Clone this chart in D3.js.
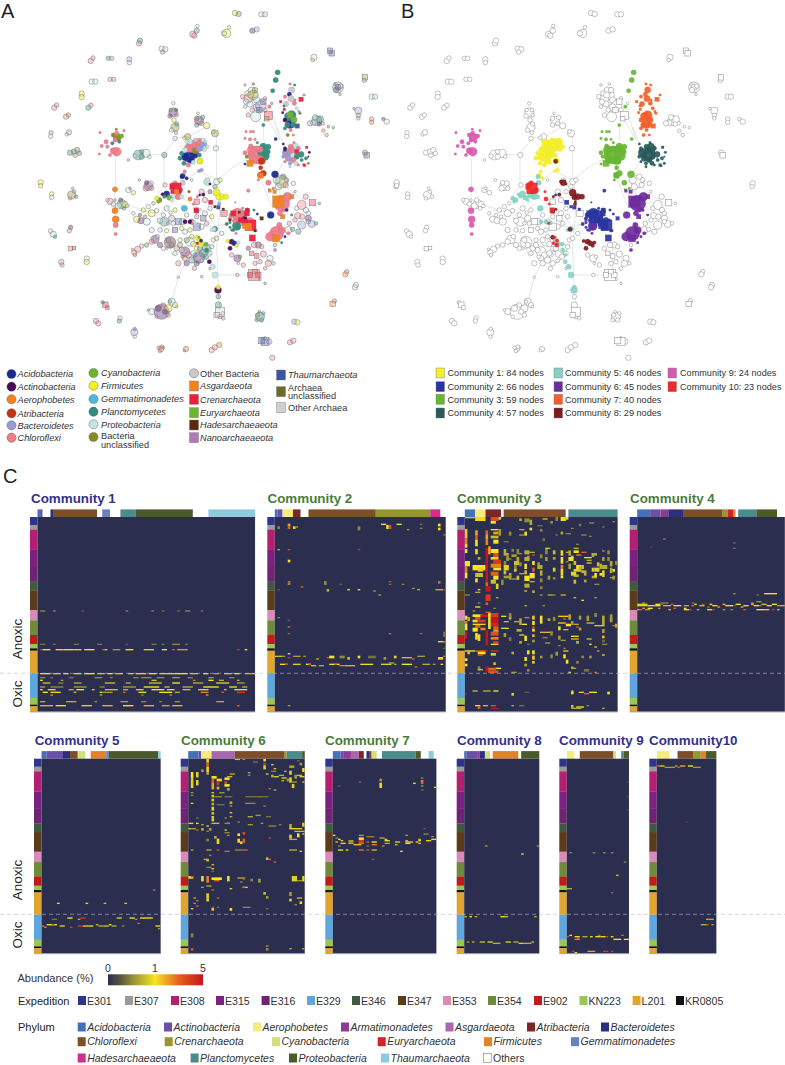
<!DOCTYPE html>
<html><head><meta charset="utf-8">
<script src="https://cdn.jsdelivr.net/npm/d3@7/dist/d3.min.js"></script>
<style>html,body{margin:0;background:#fff}svg{display:block;font-family:"Liberation Sans",Arial,sans-serif}</style>
</head><body><svg id="c" width="785" height="1065"></svg>
<script>
// ---------- phylum keys ----------
const networkPhyla = [
 ["A","Acidobacteria","#1c2a90"],["T","Actinobacteria","#480a5a"],["O","Aerophobetes","#f5821f"],["R","Atribacteria","#c9300f"],
 ["B","Bacteroidetes","#9a9ad8"],["C","Chloroflexi","#f47a8a"],["Y","Cyanobacteria","#6cb52e"],["F","Firmicutes","#eef21f"],
 ["G","Gemmatimonadetes","#4cb8d8"],["P","Planctomycetes","#2f8d7c"],["E","Proteobacteria","#bfe6e4"],["U","Bacteria\nunclassified","#8a8a20"],
 ["X","Other Bacteria","#c8c8c8"],["s","Asgardaeota","#f5821f"],["c","Crenarchaeota","#f01c3c"],["e","Euryarchaeota","#6cb52e"],
 ["h","Hadesarchaeaeota","#5a2a10"],["n","Nanoarchaeaeota","#b07ab8"],["t","Thaumarchaeota","#3b53a8"],["u","Archaea\nunclassified","#6a6a2c"],["x","Other Archaea","#cfcfcf"]];
const communityColors = ["#f3ee2e","#2a35a0","#69b534","#2a5a5c","#86d1c6","#6f2ca0","#f25f28","#7e1a1e","#d85ab0","#ee2a2e"];
const communityNodeCounts = [84,66,59,57,46,45,40,29,24,23];

// ---------- network nodes: [x, y, r, phylum] ----------
const background = [
[705,39,6,"F"],[716,42,6,"U"],[784,43,6,"E"],[795,43,6,"X"],[578,103,7,"C"],[590,92,6,"P"],[583,107,6,"C"],[592,78,4,"E"],[680,100,9,"F"],[687,82,4,"F"],[672,100,6,"X"],[757,92,6,"T"],[770,88,6,"B"],
[417,130,6,"C"],[420,122,6,"P"],[485,146,6,"E"],[496,148,6,"E"],[488,156,5,"C"],[272,183,6,"C"],[279,174,5,"C"],[325,175,5,"P"],[335,175,5,"B"],[388,178,6,"B"],[388,188,5,"E"],[275,245,6,"E"],[286,245,6,"E"],[330,238,5,"C"],[341,238,5,"C"],
[245,281,6,"F"],[245,291,6,"F"],[163,323,6,"C"],[170,315,5,"C"],[198,350,6,"C"],[205,345,5,"O"],[265,323,6,"P"],[273,316,5,"C"],[153,398,5,"B"],[152,409,5,"E"],[200,403,4,"F"],[207,397,6,"B"],
[210,458,6,"P"],[222,455,6,"P"],[232,450,6,"U"],[238,460,5,"P"],[225,466,5,"C"],[122,547,6,"F"],[122,557,5,"F"],[155,582,5,"F"],[155,592,5,"E"],[215,585,9,"U"],[222,575,4,"C"],[228,590,4,"P"],[210,595,4,"C"],[218,565,3,"C"],
[152,693,5,"E"],[160,703,7,"E"],[165,710,4,"P"],[212,682,5,"T"],[208,692,5,"C"],[211,746,5,"s"],[222,744,4,"c"],[184,786,6,"B"],[186,795,5,"C"],[260,776,6,"E"],[260,786,6,"F"],
[308,907,4,"A"],[316,914,6,"c"],[322,923,4,"c"],[288,963,6,"C"],[295,970,6,"C"],[360,954,5,"E"],[358,963,5,"P"],[403,997,8,"B"],[404,987,4,"P"],[404,1010,4,"E"],
[483,1047,6,"C"],[476,1043,4,"O"],[490,1043,3,"C"],[480,1053,4,"O"],[486,1040,4,"C"],[558,1047,6,"O"],[553,1052,3,"C"],[635,1050,6,"C"],[645,1042,6,"C"],[658,1035,6,"O"],
[795,1025,9,"t"],[785,1022,7,"t"],[808,1025,6,"B"],[795,1015,4,"E"],[870,1027,6,"C"],[880,1022,6,"C"],[817,1073,6,"C"],[998,912,6,"s"],[1003,903,5,"C"],[1068,855,6,"E"],[1065,862,6,"E"],[1040,815,5,"C"],[1036,823,6,"O"],[883,965,6,"B"],[892,967,6,"F"],
[1190,550,6,"E"],[1188,560,5,"E"],[1095,458,6,"U"],[1100,466,6,"t"],[1115,357,5,"C"],[1115,367,5,"O"],[1150,357,4,"T"],[1160,365,6,"E"],[1075,332,8,"B"],[1062,326,3,"C"],[1075,346,5,"B"],[1075,355,4,"C"],
[1115,290,6,"E"],[1125,290,6,"E"],[1095,232,6,"e"],[1093,241,5,"C"],[1014,262,12,"B"],[1014,262,7,"T"],[1020,283,3,"C"],[942,172,7,"E"],[938,180,4,"F"],[990,152,6,"t"],[995,160,6,"t"],
[950,362,11,"P"],[960,358,8,"P"],[940,368,6,"E"],[930,370,6,"B"],[968,370,4,"C"],[985,380,3,"P"],[1000,383,3,"P"],[970,392,4,"O"],[980,405,4,"O"],[945,352,6,"E"],[958,372,5,"T"],
[760,285,11,"U"],[745,295,10,"C"],[755,272,8,"E"],[770,300,7,"E"],[735,255,3,"C"],[760,252,3,"T"],[782,318,12,"B"],[790,305,6,"t"],[770,322,8,"B"],[767,350,11,"E"],[805,347,9,"c"],[795,330,5,"C"],[800,356,5,"s"],[745,345,5,"C"],[728,290,5,"C"],[735,320,4,"X"],[750,312,7,"E"],[742,280,6,"X"],[738,305,6,"E"],[757,330,5,"C"],[795,295,4,"C"],[815,310,3,"P"],[765,270,6,"U"],[752,285,7,"F"],[778,330,6,"t"],
[520,337,10,"T"],[512,330,4,"U"],[520,310,4,"E"],[530,345,4,"C"],[525,382,9,"U"],[530,372,5,"P"],[515,390,5,"E"],[522,360,5,"F"],[528,398,4,"C"],[525,415,5,"E"],[597,362,10,"T"],[590,355,5,"U"],[605,370,5,"C"],[594,340,3,"E"],
[620,377,7,"F"],[645,400,8,"U"],[640,395,4,"F"],[648,445,6,"E"],[563,410,7,"U"],[553,413,4,"F"],[415,465,11,"P"],[438,460,9,"E"],[405,468,5,"E"],[425,470,6,"P"],[493,465,6,"P"],[385,480,3,"C"],
[445,558,10,"T"],[437,565,6,"C"],[452,550,6,"E"],[495,555,5,"C"],[418,540,3,"C"],[385,570,6,"E"],[400,578,5,"F"],[390,565,3,"C"],[330,604,7,"C"],[322,600,4,"E"],[365,612,10,"P"],[355,618,7,"E"],[375,614,7,"F"],[382,618,4,"E"],[340,612,5,"E"],
[410,658,7,"F"],[423,662,7,"T"],[440,665,8,"E"],[455,640,8,"F"],[470,632,5,"E"],[435,650,4,"U"],[493,665,10,"P"],[480,662,6,"E"],[505,670,4,"C"],[515,655,7,"B"],[535,665,7,"t"],[520,670,5,"E"],[548,665,7,"E"],[590,680,8,"t"],[575,665,6,"T"],[605,680,6,"E"],[455,690,6,"E"],[615,640,6,"E"],[620,670,5,"C"],[635,650,5,"F"],[545,685,5,"F"],[512,638,4,"F"],[490,645,5,"E"],
[650,545,7,"E"],[622,540,5,"E"],[660,540,5,"F"],[590,605,6,"c"],[605,575,6,"C"],[575,540,3,"E"],
[465,718,9,"T"],[455,725,6,"C"],[440,735,5,"P"],[425,738,5,"C"],[413,748,7,"C"],[403,758,6,"C"],[397,748,3,"C"],[405,765,4,"O"],[472,710,5,"E"],[510,727,13,"T"],[505,720,6,"U"],[515,735,6,"U"],[500,745,3,"C"],
[570,725,10,"E"],[560,720,6,"Y"],[580,732,6,"F"],[540,720,5,"E"],[590,745,5,"F"],[555,755,11,"T"],[545,750,6,"E"],[565,765,7,"C"],[555,775,6,"C"],[535,790,6,"C"],[560,790,6,"T"],[548,770,4,"U"],
[597,772,13,"T"],[610,760,9,"P"],[620,745,10,"P"],[585,765,5,"P"],[635,740,5,"E"],[605,782,4,"E"],[630,805,3,"C"],[712,775,8,"T"],[720,770,4,"U"],[715,790,3,"E"],[583,805,5,"C"],[605,830,3,"C"],
[762,825,12,"c"],[750,825,6,"c"],[775,825,6,"c"],[765,815,5,"s"],[712,825,4,"C"],[780,838,3,"C"],[795,850,3,"P"],[775,735,7,"T"],[762,735,6,"C"],[785,740,5,"C"],[790,762,7,"C"],[770,768,5,"c"],[765,790,5,"C"],[810,775,7,"E"],[805,790,7,"C"],[795,805,4,"C"],[825,735,4,"C"],[672,640,7,"c"],
[655,890,5,"P"],[660,935,10,"x"],[655,915,7,"P"],[660,950,5,"C"],[668,940,4,"E"],[485,935,17,"T"],[505,925,8,"F"],[515,905,8,"E"],[525,915,6,"F"],[455,935,7,"E"],[445,930,3,"C"],[505,945,5,"C"],[470,950,4,"C"],[535,832,3,"E"],[530,920,3,"F"],
[780,950,10,"P"],[773,945,5,"U"],[785,960,5,"P"],[778,935,3,"P"],[905,615,10,"C"],[938,608,7,"c"],[917,590,6,"C"],[958,610,3,"P"],[893,647,7,"C"],[907,650,6,"C"],[925,655,7,"T"],[905,675,9,"B"],[935,672,8,"B"],[948,670,4,"P"],[925,665,5,"B"],[865,690,8,"E"],[878,688,5,"P"],[918,630,6,"E"],
[845,545,14,"U"],[830,540,8,"E"],[857,555,6,"C"],[880,550,5,"E"],[885,575,3,"C"],
[480,690,5,"E"],[500,692,5,"F"],[525,690,6,"t"],[555,695,6,"E"],[570,690,5,"F"],[480,735,6,"T"],[490,745,5,"E"],[530,745,6,"C"],[525,760,5,"E"],[580,760,6,"E"],[590,790,6,"T"],[575,780,7,"P"],[618,770,6,"P"],[630,760,5,"E"],[600,745,6,"P"],[575,710,5,"F"],[540,735,6,"U"],[640,720,5,"E"],[650,715,5,"F"],[665,700,5,"E"],[695,765,5,"C"],[730,795,5,"C"],[755,760,5,"c"],[780,785,5,"C"],[745,745,5,"T"],[820,790,4,"C"],[430,630,5,"F"],[445,620,5,"E"],[460,610,4,"C"],[420,645,4,"T"],[400,640,4,"E"],[500,625,6,"E"],[525,630,5,"F"],[560,645,5,"E"],[590,650,5,"B"],[610,655,6,"t"],[630,625,5,"E"],[630,575,5,"T"],[615,600,6,"C"],[645,560,5,"P"],[495,935,6,"T"],[475,925,7,"T"],[490,915,5,"C"],[510,905,4,"P"],[650,945,6,"x"],[670,955,4,"C"],[790,940,4,"P"],[770,960,4,"P"],[925,640,5,"E"],[890,625,5,"E"],[885,660,5,"C"],[895,695,6,"P"],[868,670,5,"C"],[835,560,7,"E"],[850,530,6,"P"],[860,540,5,"C"],[510,348,5,"T"],[528,330,4,"T"],[590,375,5,"P"],[608,352,5,"P"],[425,455,5,"P"],[448,470,4,"E"],[440,548,5,"T"],[455,565,5,"C"],[362,600,5,"T"],[372,625,4,"P"],[345,600,3,"C"],[1008,270,6,"P"],[1022,258,5,"E"],[1005,252,3,"P"]];
const community1Nodes = [[575,455,14,"A"],[565,470,12,"A"],[583,462,10,"A"],[572,478,9,"A"],[556,470,9,"A"],[590,435,14,"C"],[575,440,13,"C"],[600,428,10,"C"],[565,445,9,"C"],[610,435,8,"B"],[586,452,7,"U"],[595,447,6,"C"],[545,460,5,"P"],[540,475,5,"P"],[600,483,7,"F"],[548,528,6,"A"],[560,535,4,"A"],[554,515,4,"C"],[587,420,5,"X"],[570,425,6,"E"],[610,420,5,"E"],[598,465,5,"P"],[612,447,6,"E"],[552,490,5,"P"],[565,495,5,"C"],[580,487,5,"E"],[600,445,7,"B"],[555,450,6,"E"],[597,513,4,"B"],[605,510,4,"B"],[622,440,4,"E"],[560,425,4,"E"],[617,425,3,"E"]];
const community2Nodes = [[720,650,16,"C"],[712,640,12,"C"],[752,676,12,"c"],[735,668,7,"c"],[740,640,6,"c"],[722,660,6,"c"],[700,640,6,"c"],[742,632,5,"c"],[757,714,7,"c"],[632,607,5,"c"],[733,658,7,"T"],[742,630,5,"A"],[710,678,10,"P"],[680,672,4,"P"],[695,690,3,"P"],[690,682,3,"P"],[745,680,8,"s"],[735,678,6,"s"],[785,655,4,"h"],[765,692,3,"h"],[670,628,3,"h"],[645,620,3,"h"],[718,637,3,"h"],[750,660,6,"C"],[695,645,6,"C"],[690,655,4,"C"],[706,607,2,"C"],[745,572,4,"C"],[655,622,4,"t"],[599,585,3,"T"],[772,642,3,"A"],[728,625,3,"C"],[703,662,5,"C"],[690,668,3,"P"],[762,630,3,"P"],[760,660,3,"C"]];
const community3Nodes = [[770,465,20,"C"],[790,455,13,"P"],[795,468,10,"P"],[755,450,10,"C"],[780,480,10,"C"],[760,478,9,"C"],[790,440,8,"P"],[805,440,6,"P"],[752,438,5,"C"],[735,458,5,"C"],[740,470,4,"U"],[750,490,7,"s"],[735,492,3,"A"],[785,483,8,"R"],[782,503,5,"R"],[790,520,7,"R"],[780,525,6,"R"],[805,548,6,"C"],[775,540,3,"C"],[782,527,6,"s"],[825,523,8,"A"],[827,417,4,"A"],[833,217,6,"P"],[827,240,6,"P"],[818,272,5,"P"],[808,320,4,"C"],[790,375,4,"P"],[738,395,3,"C"],[752,395,3,"C"],[760,395,3,"C"],[735,415,3,"C"],[750,418,4,"C"],[765,418,3,"C"],[772,428,3,"P"],[820,565,3,"O"],[808,570,3,"s"],[780,448,7,"C"],[803,455,6,"P"],[772,445,6,"C"]];
const community4Nodes = [[877,465,14,"E"],[860,458,10,"B"],[885,440,8,"E"],[872,440,6,"C"],[855,450,4,"A"],[903,463,7,"P"],[890,470,6,"P"],[875,450,7,"C"],[880,480,6,"C"],[865,475,7,"B"],[895,445,5,"C"],[888,490,5,"E"],[870,490,4,"B"],[918,475,4,"P"],[920,442,3,"c"],[928,457,3,"T"],[855,445,4,"T"],[925,490,3,"Y"],[915,497,3,"C"],[850,432,3,"T"],[882,428,3,"C"],[905,480,4,"P"],[912,495,3,"c"],[860,465,4,"C"],[890,455,5,"c"],[870,500,3,"E"],[895,495,3,"C"],[850,470,4,"B"],[925,470,2,"T"],[855,485,3,"C"]];
const community5Nodes = [[500,582,7,"A"],[478,600,6,"U"],[470,595,5,"F"],[508,593,6,"Y"],[488,583,4,"T"],[493,590,4,"P"],[525,585,8,"E"],[535,590,7,"C"],[475,605,4,"Y"],[545,590,5,"E"],[553,625,7,"G"],[570,665,5,"T"],[555,665,5,"T"],[583,668,5,"E"],[645,687,6,"P"],[600,725,7,"F"],[605,730,5,"F"],[618,733,5,"Y"],[628,785,5,"T"],[638,800,6,"E"],[645,825,7,"E"],[654,870,8,"T"],[655,862,5,"F"],[620,750,5,"P"],[628,765,4,"E"],[546,530,5,"A"],[548,548,6,"X"],[635,690,4,"E"],[515,600,4,"E"]];
const community6Nodes = [[845,610,18,"C"],[835,605,13,"s"],[862,590,10,"C"],[875,590,5,"s"],[850,630,5,"C"],[860,630,4,"A"],[812,645,8,"A"],[848,650,5,"s"],[840,640,6,"C"],[838,675,6,"C"],[830,700,16,"C"],[828,715,8,"s"],[810,710,10,"C"],[845,690,8,"C"],[865,700,4,"C"],[855,710,3,"A"],[840,692,4,"C"],[875,645,3,"P"],[845,728,3,"P"],[825,750,4,"B"],[810,573,3,"s"],[824,575,4,"s"],[712,680,7,"P"],[680,672,3,"P"],[700,690,4,"P"],[708,700,3,"C"],[690,660,3,"h"],[768,692,3,"C"]];
const community7Nodes = [[870,372,10,"A"],[875,345,10,"P"],[865,350,9,"P"],[862,375,6,"P"],[882,360,7,"Y"],[870,345,7,"Y"],[880,375,6,"P"],[855,360,5,"T"],[892,378,5,"t"],[863,405,4,"U"],[875,270,7,"X"],[868,283,5,"A"],[884,255,3,"P"],[870,252,3,"C"],[858,312,6,"X"],[873,296,7,"X"],[855,290,4,"C"],[883,310,5,"C"],[842,305,3,"c"],[853,328,3,"c"],[848,338,3,"T"],[885,300,3,"C"],[903,298,5,"c"],[912,285,3,"C"],[900,340,3,"P"],[852,318,3,"P"],[880,405,3,"C"],[897,335,3,"C"],[890,325,4,"E"],[855,385,4,"P"],[872,390,4,"C"]];
const community8Nodes = [[599,484,5,"F"],[622,548,7,"E"],[615,545,4,"E"],[630,552,3,"T"],[650,578,8,"F"],[665,590,7,"F"],[655,592,6,"F"],[678,590,6,"F"],[658,605,3,"E"],[610,584,4,"T"],[592,590,3,"C"],[590,633,5,"c"],[642,688,5,"E"],[695,725,6,"T"],[690,745,5,"T"],[703,730,6,"A"],[683,723,4,"F"],[710,737,4,"F"],[715,728,4,"E"],[590,712,5,"F"],[657,612,4,"B"],[600,628,3,"E"]];
const community9Nodes = [[350,455,10,"C"],[340,452,7,"C"],[352,412,9,"U"],[340,405,5,"U"],[365,408,5,"Y"],[350,400,5,"C"],[345,420,5,"C"],[358,425,4,"P"],[318,425,5,"C"],[305,438,4,"C"],[330,465,4,"C"],[345,568,6,"O"],[345,632,7,"O"],[347,658,8,"O"],[347,675,6,"C"],[347,702,4,"C"],[300,398,3,"C"],[349,388,3,"U"],[372,392,3,"C"],[322,440,4,"C"],[298,462,3,"C"],[337,430,4,"P"]];
const community10Nodes = [[528,565,12,"c"],[517,560,6,"c"],[540,570,6,"R"],[530,575,5,"s"],[525,550,6,"C"],[567,575,3,"R"],[570,597,5,"O"],[578,670,3,"C"],[588,630,5,"c"],[580,612,3,"C"],[592,730,3,"c"],[602,735,5,"F"],[603,722,4,"A"],[597,712,3,"Y"]];
const edges = [[347,470,347,570],[345,570,345,632],[437,463,492,465],[492,465,492,552],[525,420,492,460],[523,415,562,410],[492,555,470,590],[560,415,620,378],[650,445,650,540],[620,378,650,400],[650,400,650,445],[650,540,600,515],[610,500,560,540],[650,540,705,497],[705,497,755,470],[655,560,660,610],[660,610,655,690],[655,690,650,740],[650,740,655,860],[535,832,515,905],[535,832,570,760],[645,825,755,825],[655,880,660,930],[465,640,380,615],[470,650,540,590],[540,590,620,640],[620,640,655,690],[655,690,700,650],[810,320,840,420],[790,375,790,420],[825,530,845,600],[780,530,815,620],[830,380,850,430],[800,350,840,420],[830,540,880,580],[860,470,830,520],[880,580,925,610],[345,630,330,610],[410,630,470,640],[520,770,470,650],[590,680,640,680],[640,680,690,670],[525,415,550,440],[770,735,770,820],[647,690,640,740],[650,575,620,540]];

// ---------- heat maps ----------
const expeditions = [["E301","#2e3689"],["E307","#9a9a9a"],["E308","#b51f73"],["E315","#7b2280"],["E316","#6e2473"],["E329","#5fa6dc"],["E346","#3f5a3f"],["E347","#5c3b1a"],["E353","#d88ab8"],["E354","#6f8a3a"],["E902","#c21a1a"],["KN223","#9bc657"],["L201","#e0a52e"],["KR0805","#111111"]];
const sampleBlocks = [["E301",6],["E307",3.5],["E308",15],["E315",13],["E316",11],["E346",6.5],["E347",14.75],["E353",7.75],["E354",11],["E902",6.75],["KN223",3.25],["KR0805",1.75],["L201",16.75],["E329",18.75],["KN223",5],["KR0805",1.25],["L201",4]];
const phylumColors = {Acidobacteria:"#4472b8",Actinobacteria:"#6a50a7",Aerophobetes:"#f4ec7c",Armatimonadetes:"#8e3b96",Asgardaeota:"#a868b0",Atribacteria:"#7e2527",Bacteroidetes:"#2e2e7e",Chloroflexi:"#7d4f28",Crenarchaeota:"#96962f",Cyanobacteria:"#d3de7e",Euryarchaeota:"#d2232a",Firmicutes:"#e0832b",Gemmatimonadetes:"#6d7fc2",Hadesarchaeaeota:"#cf2e8c",Planctomycetes:"#4a8b8c",Proteobacteria:"#4a5a2b",Thaumarchaeota:"#8ccbdc",Others:"#ffffff"};
const phylumLegendRows = [["Acidobacteria","Actinobacteria","Aerophobetes","Armatimonadetes","Asgardaeota","Atribacteria","Bacteroidetes"],["Chloroflexi","Crenarchaeota","Cyanobacteria","Euryarchaeota","Firmicutes","Gemmatimonadetes"],["Hadesarchaeaeota","Planctomycetes","Proteobacteria","Thaumarchaeota","Others"]];
const communityTitles = ["Community 1","Community 2","Community 3","Community 4","Community 5","Community 6","Community 7","Community 8","Community 9","Community10"];
const communityPhyla = [
 [["Acidobacteria",1],["Actinobacteria",1],["Others",3],["Bacteroidetes",1],["Chloroflexi",17],["Others",2],["Gemmatimonadetes",3],["Others",4],["Planctomycetes",6],["Proteobacteria",22],["Others",6],["Thaumarchaeota",18]],
 [["Acidobacteria",1],["Actinobacteria",2],["Aerophobetes",4],["Atribacteria",3],["Others",3],["Chloroflexi",26],["Crenarchaeota",21],["Hadesarchaeaeota",4],["Others",2]],
 [["Acidobacteria",4],["Aerophobetes",4],["Atribacteria",6],["Others",1],["Chloroflexi",24],["Others",1],["Planctomycetes",19]],
 [["Acidobacteria",5],["Actinobacteria",4],["Armatimonadetes",3],["Bacteroidetes",6],["Chloroflexi",15],["Crenarchaeota",2],["Euryarchaeota",2],["Firmicutes",1],["Others",1],["Planctomycetes",7],["Proteobacteria",8],["Others",3]],
 [["Acidobacteria",2],["Actinobacteria",6],["Bacteroidetes",3],["Chloroflexi",3],["Cyanobacteria",3],["Others",2],["Firmicutes",6],["Gemmatimonadetes",1],["Proteobacteria",19],["Thaumarchaeota",1]],
 [["Acidobacteria",4],["Actinobacteria",1],["Aerophobetes",4],["Asgardaeota",9],["Chloroflexi",19],["Crenarchaeota",1],["Planctomycetes",6],["Proteobacteria",1]],
 [["Acidobacteria",3],["Actinobacteria",1],["Armatimonadetes",3],["Asgardaeota",3],["Atribacteria",2],["Others",1],["Bacteroidetes",1],["Chloroflexi",1],["Cyanobacteria",2],["Others",2],["Planctomycetes",13],["Proteobacteria",2],["Others",3],["Thaumarchaeota",2],["Others",1]],
 [["Acidobacteria",1],["Actinobacteria",4],["Armatimonadetes",1],["Bacteroidetes",2],["Cyanobacteria",2],["Others",1],["Firmicutes",10],["Others",1],["Proteobacteria",7]],
 [["Aerophobetes",3],["Others",2],["Chloroflexi",13],["Cyanobacteria",1],["Others",2],["Planctomycetes",1],["Proteobacteria",2]],
 [["Aerophobetes",5],["Others",3],["Chloroflexi",6],["Crenarchaeota",3],["Firmicutes",2],["Proteobacteria",4]]];

// cells: [row, column, columns wide, abundance %, rows tall]
const cells1 = [[70,1,2,.5],[70,6,1,.5],[70,17,1,.3],[70,34,1,.5],[70,44,1,.5],[70,48,1,.4],[70,54,1,.4],[70,57,2,.5],[70,63,1,.4],
[95,1,2,.4],[95,6,1,.4],[95,14,2,.4],[95,23,2,.4],[95,34,1,.3],[95,44,2,.4],[95,48,1,.4],[95,52,3,.5],[95,57,1,.4],
[99,1,1,4],[99,2,3,1],[99,7,3,1.2],[99,10,4,1.1],[99,14,3,.9],[99,18,4,1],[99,25,1,3],[99,26,1,1.5],[99,29,3,.6],[99,34,3,1],[99,41,4,.9],[99,48,2,1],[99,52,1,3],[99,54,4,.7],[99,77,1,4],[99,80,1,1],
[117,1,4,1],[117,6,3,.8],[117,10,2,1],[117,14,3,.9],[117,18,4,1],[117,23,3,.8],[117,27,2,1],[117,30,3,.8],[117,35,2,.9],[117,38,4,.9],[117,43,3,1],[117,47,6,.9],[117,53,5,1],[117,59,3,.8],[117,64,2,1],[117,68,2,2.5],[117,72,3,.8],[117,76,2,1],[117,80,4,.7],
[120,1,2,.5],[120,5,1,.4],[120,12,2,.4],[120,22,3,.5],[120,28,1,.5],[120,37,2,.5],[120,40,4,.5],[120,46,3,.5],[120,52,3,.6],[120,58,2,.5],[120,66,2,.6],[120,74,2,.5],
[122,1,1,1],[122,9,1,.6],[122,44,2,.8],[122,60,1,3],[122,66,2,1],[122,70,2,.7],[122,77,1,.7],[124,2,3,.8],[124,8,2,.5],[124,14,3,.7],[124,26,4,.8],[124,34,2,.7],[124,43,5,.8],[124,52,3,1],[124,60,4,.7],[124,69,5,.9],[124,77,3,.6],
[127,1,2,.6],[127,5,5,.5],[127,14,5,.6],[127,24,2,.5],[127,33,5,.6],[127,41,6,1],[127,49,2,.8],[127,56,4,.7],[127,64,6,1],[127,74,3,1.2],[127,79,2,.7],
[129,1,1,1],[129,4,3,1.1],[129,12,2,.7],[129,15,3,1],[129,21,1,1.5],[129,26,5,.8],[129,33,2,2],[129,38,3,.9],[129,44,5,1],[129,50,3,1.3],[129,56,3,.8],[129,62,4,1.3],[129,72,1,.8],[129,76,5,1.1],
[131,2,2,1],[131,5,4,1.2],[131,14,1,.8],[131,24,1,1],[131,25,4,.6],[131,33,1,3],[131,39,3,1.1],[131,47,5,1],[131,53,2,.7],[131,63,3,2.5],[131,71,1,3],[131,77,3,4],
[133,5,1,.7],[133,24,1,.7],[133,40,1,.5],[133,51,1,.6],[133,65,1,2],[138,1,2,.7],[138,11,4,.7],[138,22,1,.5],[138,32,3,.6],[138,40,2,.5],[138,47,1,.5],[138,53,2,.6],[138,69,3,.7],
[141,1,5,.8],[141,7,4,1],[141,17,4,.9],[141,25,4,.8],[141,33,4,1],[141,41,4,.8],[141,48,3,.7],[141,52,4,.8],[141,77,1,3],[145,15,1,.3]];
const cells2 = [[7,1,1,.5,2],[5,5,1,2,2],[7,5,1,3,2],[7,7,1,1.2,2],[7,8,1,.6],[7,32,1,.5,3],[5,41,2,1],[6,43,1,1,3],[6,44,1,3.5,3],[5,47,2,1],[9,51,1,.6],[5,56,1,.4],[8,56,1,.5],[5,63,1,1,2],[8,63,1,1.2,2],[13,65,1,.5],
[24,1,1,.7],[24,5,1,3.5],[24,32,1,.3],[32,5,1,1,2],[48,5,1,3,1],[49,5,1,.5,2],[52,10,1,3],[54,1,1,.3],[48,19,1,.5,3],[54,20,1,.7,2],[50,25,1,.3],[54,28,1,1],[54,32,1,1],[55,38,1,.6],[58,40,1,.6],[48,44,1,3.5],[50,44,1,.4],[50,49,1,.5],[53,53,1,.6],[54,55,1,.8],[48,63,1,.5,2],[54,62,3,2],[54,65,1,4],[75,1,1,.5],[77,5,1,.3],[82,5,1,3],[87,5,1,.4],[87,44,1,.5],[87,56,1,.4],[93,63,3,1],[93,65,1,3],[86,65,1,.4,4],[98,65,1,.4],
[102,5,1,1],[104,0,3,.8],[104,3,1,.6],[105,5,1,4],[104,7,3,.6],[104,11,1,.6],[106,16,1,.8],[105,20,1,3.5],[104,21,2,1,2],[104,25,2,.5,2],[105,28,1,.8,2],[104,32,1,1,2],[104,36,3,.4,2],[105,42,1,.6,2],[104,46,1,1.2,2],[105,49,4,.8],[106,53,1,3],[104,55,3,.6],[105,63,2,1.3,2],[104,65,1,.5],
[110,2,3,1],[110,4,1,4],[110,7,3,.9],[110,12,2,1],[110,13,1,3],[111,14,2,.8],[111,17,2,.7],[110,21,4,1],[110,23,1,3],[111,25,2,.6],[111,27,4,.8],[110,33,5,1.1],[110,41,4,.9],[109,44,2,.7],[110,46,1,.7],[110,49,4,1],[112,54,1,3],[110,57,3,.7],[110,61,1,.6],[110,64,1,1],[141,5,1,.6]];
const cells3 = [[0,0,4,.8],[0,4,4,1.2,3],[0,10,3,3.5,3],[3,10,2,1,2],[0,13,1,.9,2],[1,23,2,.5,3],[1,30,2,.8],[0,35,1,.5,3],[0,37,2,1.1,3],[0,39,1,1,2],[1,21,1,.7,2],[2,25,1,.7,4],[9,0,1,1.4,7],[16,0,1,2.5,4],[20,0,1,1,3],[10,4,1,2,4],[14,4,1,3,3],[17,4,1,1,5],[10,8,1,3,3],[13,8,1,2,4],[17,8,1,2.5,4],[9,10,3,1,1],[11,11,2,2,2],[14,10,3,.8,2],[17,11,2,1,3],[9,13,1,.6,5],[9,21,2,.7],[11,23,1,1,3],[8,25,1,1,2],[13,21,2,.6],[9,29,1,.5,2],[11,37,1,.7,2],[8,41,1,.5],[13,45,2,.5],[14,48,1,.5],[13,35,1,.4],[12,39,2,.5],[5,44,1,.4,2],[3,33,1,.5,2],[6,28,2,.4],[4,48,2,.5],[7,53,1,.4],[16,30,1,.4,2],[18,15,2,.4],[20,43,1,.5],[3,57,1,.5],[11,17,1,.5,3],
[24,0,1,1,3],[33,0,2,1,4],[37,0,1,2.5,5],[42,0,1,1,4],[24,4,1,1.2,4],[30,5,1,.7,2],[36,3,5,1,4],[38,5,2,1.4,3],[42,4,3,.8,3],[46,4,1,1,3],[23,8,1,5,12],[35,8,1,5,14],[49,8,1,3,3],[52,8,2,5,4],[58,8,2,4,5],[64,8,1,3,2],[22,9,1,2,6],[24,10,3,1,3],[27,11,2,3.5,3],[30,10,3,1.2,2],[32,11,3,4,3],[35,10,4,2.5,3],[38,11,3,1,2],[41,10,3,3,3],[44,11,2,1,3],[47,10,2,.8,3],[50,12,1,.9,4],[27,15,2,.7,2],[36,15,2,.9,4],[42,17,1,.7,2],[24,18,1,.5,2],[31,16,2,.6],[38,19,1,.9,3],[44,15,3,.6,2],[34,21,1,.5,3],[42,21,2,.7],[46,18,3,.6],
[25,23,2,.7,3],[29,24,1,2.5,1],[30,23,2,.7,3],[35,23,1,1,4],[40,23,1,.8,3],[44,23,2,1,4],[50,23,2,.7,3],[26,25,2,.7],[28,26,1,3.5],[33,26,1,1,3],[38,26,1,3,3],[42,25,2,1,4],[48,25,2,.7],[36,28,2,.7,3],[23,31,2,.8],[25,34,1,.8,3],[30,34,1,.7,2],[38,34,1,.9,3],[45,34,1,.5,2],[25,37,1,1.2,4],[30,37,1,1,5],[36,37,1,2.5,3],[39,37,1,1.2,5],[44,37,1,1,2],[26,39,2,.7],[33,39,1,.5],[29,41,1,.8,2],[23,42,2,.7],[25,42,2,1,2],[28,43,2,2.5],[33,42,1,.8,3],[36,43,2,1,3],[39,42,3,.9,2],[43,42,2,.7,2],[47,42,1,.8,3],[30,46,3,1,1],[34,47,2,1.5,1],[37,44,1,.7,3],[40,45,1,.8,2],[27,49,2,.7,2],[34,51,1,.8,3],[38,50,2,.9,3],[44,49,2,.7,2],[30,53,1,.6,3],[36,53,2,.7,3],[42,52,1,1,2],[25,55,1,.5,3],[33,56,1,.7,4],[39,57,1,1,2],[45,56,2,.6],[28,18,2,.6,2],[33,19,2,.8,3],[27,21,1,.6],
[25,40,1,.7,4],[30,40,2,1,3],[35,40,1,.6,4],[41,41,2,.9,3],[36,45,1,.8,3],[40,46,1,.7,4],[27,49,1,.7,3],[38,49,1,.9,3],[42,50,1,1,3],[35,52,1,.7,4],[40,53,1,.9,5],[30,55,1,.5,3],[38,56,1,.7,4],[44,57,1,.6,3],[33,58,1,.5,3],[26,45,2,3],[32,47,2,.7],[25,53,1,.6],[47,46,1,.7,2],[50,50,2,.5],[24,15,1,.7,3],[29,16,1,.6,4],[33,15,1,.5,3],[40,15,1,.8,3],[44,17,1,.6,3],[24,20,1,.5,4],[30,20,1,.7,3],[36,19,1,.5,3],[44,20,1,.8,3],[47,14,1,.5,4],[28,29,1,.5,3],[34,28,1,.6,3],[40,29,1,.7,4],[46,29,1,.5,3],[24,31,1,.5,4],[30,31,1,.6,3],[44,32,1,.6,3],[52,29,1,.5,2],
[54,5,1,1],[56,4,2,.7],[58,0,2,.5],[60,12,1,.7],[55,23,1,.9],[55,26,1,.7,2],[58,34,1,.5],[58,32,2,.7],[58,29,1,.6],[58,37,2,2],[60,42,1,.8],[62,45,1,1],[60,50,1,.6],[64,5,1,.5],[67,4,2,1],[68,11,1,.5],[66,23,1,.7],[66,30,1,.5],[70,3,1,.6],[71,8,2,3],
[74,0,1,1.2,3],[78,0,1,2.5,2],[80,0,1,1,5],[75,1,1,.7,3],[73,3,4,1,2],[75,4,2,3.5,2],[73,6,3,5,2],[77,3,2,1.2,2],[77,5,3,4,2],[80,3,5,1.2,1],[81,4,2,3,2],[83,3,2,1,3],[83,6,2,2.5,2],[72,10,3,4,3],[75,10,3,5,4],[79,10,3,4.5,3],[82,11,2,3,3],[85,11,2,1,1],[72,9,1,1,12],
[74,14,2,1.2],[78,15,2,.8],[83,14,3,1.2],[74,17,1,.7,3],[78,19,2,.7],[76,21,1,.7,5],[80,22,2,1],[74,26,1,1.4,3],[78,26,1,1,3],[82,26,1,3.5,2],[84,26,1,1,2],[75,23,2,.6],[74,29,1,1,6],[86,29,5,1.8],[76,32,1,.7,2],[75,34,1,.5,3],[74,36,4,1.4],[79,36,3,1.5],[82,36,1,1.2,3],[80,39,2,1,2],[76,38,1,3],[84,38,2,.8],[82,43,1,3],[80,42,2,.7],[74,44,1,.6,3],[79,47,3,.8],[81,50,4,1.6],[78,53,1,.7,3],[76,56,1,.6,3],[81,57,1,3],
[73,40,1,.7,4],[78,41,1,.6,3],[83,44,1,.7,2],[74,47,1,.6,4],[72,50,1,.5,3],[74,53,1,.7,4],[84,53,1,.6,3],[73,56,1,.6,5],[80,58,1,.7,3],[84,20,2,.7,2],[72,17,1,.5,3],[87,15,1,.6,3],[90,17,1,.4,3],[92,26,1,.6,2],[88,26,1,.8,2],[86,33,1,.5,3],[92,53,1,.4,2],[98,38,1,.5],[96,36,1,.5],[95,53,2,.5],
[86,0,1,5,5],[87,4,1,1,5],[88,5,1,1.2,5],[85,8,1,5,6],[91,8,1,5,5],[86,10,3,3.5,3],[90,10,3,2.5,2],[93,11,2,4,2],[95,10,3,1.3,1],[89,23,1,1,4],[93,21,1,.7,2],[88,21,2,.9],[89,41,3,1.2],[91,41,3,1.8],[93,43,1,.9,2],[91,47,2,.8],[89,53,1,1.6,2],[95,48,1,1],[97,50,1,1.3],[94,43,1,.5],[89,36,1,.6,3],[92,37,2,.6],[90,30,2,.5],[94,31,2,.6],[95,24,1,.4],
[100,0,4,1],[100,4,4,3],[100,8,1,5],[100,10,3,4],[101,5,3,1.1,2],[103,5,2,3],[102,10,2,.9,2],[100,1,1,.8,3],[101,18,1,.7,2],[100,24,1,1,3],[105,23,1,1,3],[110,23,1,.7,2],[100,26,1,1,3],[104,26,1,1.4,3],[108,26,1,.9,2],[104,29,1,.6,2],[100,38,2,1.4,1],[103,38,1,1,3],[107,39,1,1,3],[101,35,1,.6,3],[103,33,1,.5,3],[112,41,1,.6,2],[100,51,1,.7],[103,53,1,1,1],[104,48,1,.6,2],[108,43,1,.5,2],[104,45,1,.5,2],[106,0,1,1,2],[110,0,1,1,2],[112,5,1,.5,3],[109,11,1,.8,2],
[112,8,1,5,4],[113,9,3,3,2],[115,9,4,3.5,2],[113,12,2,1,1],[114,5,2,.8],[116,18,2,.6],[114,24,1,.5,2],[113,41,2,.7],[116,40,1,.9],[116,50,1,3,1],[114,46,2,.4,2],
[130,3,2,.8],[130,7,3,.7],[130,11,2,1],[131,23,2,.3],[130,41,1,.7,2],[132,0,1,5],[132,18,1,.9,2],[131,44,2,.9],[132,46,2,3],[131,48,3,1],[131,55,1,1,2],[131,41,1,1,2],
[141,4,2,1],[142,5,1,3,2],[141,7,2,.8],[141,10,2,3.5],[143,10,3,5],[141,18,1,.7],[141,21,2,.4],[141,41,1,.8,2],[142,43,3,1],[143,41,4,.7],[141,47,1,.5],[143,53,1,.7]];
const cells4 = [[16,10,1,.5],[19,37,1,.4],[23,37,1,.4],[22,5,1,.2],[57,37,1,.5],[58,46,1,.4],[57,49,5,1],[64,2,1,.6],[64,9,3,.5],[63,46,2,.6],[64,21,1,.4],[64,44,1,.6],[65,0,1,1,2],[65,1,3,.9,2],[66,4,3,1.3],[65,7,2,1,2],[65,9,1,4],[66,10,3,.8],[65,13,1,3],[66,14,3,1],[66,18,2,.7],[66,21,1,3],[65,22,1,1],[66,24,2,.8],[65,25,1,4],[67,27,1,3.5],[65,28,1,1],[66,29,2,1.2],[67,31,1,2],[65,33,1,.9],[66,34,3,1],[66,37,1,4],[65,38,2,1],[67,40,1,.8],[66,41,2,1.2],[65,44,1,.9],[66,45,2,1],[66,47,1,3],[65,48,2,.8],[66,50,2,1.2],[65,52,2,1],[66,54,1,2.5],[66,55,2,.8],
[68,2,1,2],[68,4,2,1],[68,8,1,.6],[68,14,1,3],[68,18,1,1],[69,0,1,.8],[69,1,1,3],[69,3,2,.6],[69,12,1,.8],[69,18,2,1],[69,20,1,4],[69,27,2,1],[69,29,1,4],[69,33,1,.6],[69,41,1,3],[69,46,3,1],[69,49,2,.9],[69,52,1,4],[69,54,1,.8],[69,36,1,.5],[69,23,1,.7]];
const cells5 = [[98,43,1,.5],[108,6,1,1],[108,17,1,.9],[108,24,1,.8],[108,32,1,1.4],[119,10,2,1],[120,4,2,.4],[120,14,1,.7],[119,15,2,4],[119,29,2,.9],[119,34,2,1],[119,38,5,1.1],[120,36,1,.6],[123,37,1,3],[124,2,4,1],[124,4,1,.5],[125,0,1,2.5],[126,1,1,2.5],[125,7,2,.9],[126,11,1,4],[125,14,2,4],[125,16,2,.9],[125,18,2,1.2],[124,21,1,.8],[125,22,2,.7],[125,24,2,.8],[124,26,1,1],[125,27,2,.7],[125,31,1,.5],[125,44,2,1.2],[127,45,1,.6]];
const cells6 = [[10,1,1,1,5],[15,1,1,.9,7],[10,3,1,.9,4],[16,3,1,.9,4],[0,7,1,.9,3],[3,7,1,3,3],[6,7,1,1.3,4],[10,7,1,.7,2],[8,5,1,.6,2],[13,9,2,1,2],[15,9,1,3,3],[18,9,1,2,5],[15,11,2,1.2,2],[17,11,1,4,3],[21,11,1,.8,2],[14,14,2,1.1,2],[17,14,1,3.5,2],[19,14,2,1,2],[22,15,1,.7,2],[11,16,2,.7],[13,15,2,.8],[0,18,2,.8],[0,21,1,.6],[2,25,2,.4],[10,23,1,.7],[12,23,1,.5],[0,29,1,1,2],[3,29,1,4,2],[5,29,1,.9,3],[4,32,1,.9,1],[7,33,1,.9],[9,32,2,3],[11,30,1,.9],[12,32,1,.7,2],[13,33,2,.9],[14,36,2,.9],[12,35,2,.7],[9,37,1,.7],[16,36,1,.8],[9,39,1,.9,3],[14,39,1,.9,4],[19,40,1,.9,3],[5,39,2,.6,2],[3,43,1,.6,2],[7,44,1,1.1,3],[12,42,2,.8],[13,43,2,.9],[17,44,1,.8],[12,41,1,.6,3],[0,45,1,.4],[1,42,1,.4],[17,40,2,.6],[15,38,1,.6,2],[23,33,1,.7],[22,31,1,3],
[25,9,1,.9,1],[27,9,1,.8,2],[30,9,1,.9,2],[33,9,1,.7,2],[36,9,1,.9,3],[40,9,1,.8,2],[43,9,1,.9,2],[45,9,1,.9,2],[28,10,3,.5],[34,11,3,.4],[25,12,2,.6],[25,1,1,.6],[27,1,1,.5],[33,1,1,.9],[28,14,3,.4],[33,16,1,3,1],[32,16,1,.7,2],[35,16,1,.6],[40,16,1,.9,1],[43,16,1,.7,1],[44,14,1,.5],[28,22,6,.4],[33,22,4,.5],[35,29,1,3],[28,27,4,.4],[43,23,2,.7],[42,26,2,.6],[43,30,2,.4],[44,3,1,.4],
[48,0,2,.9],[48,3,1,1],[49,5,1,.7],[48,9,3,.8],[50,7,1,.9],[48,15,1,1],[48,14,2,.5],[47,19,1,.5],[49,23,2,.6],[48,28,1,.6],[50,31,3,.5],[49,35,1,.5],[49,39,1,.7,3],[48,44,1,.9,3],[52,0,1,.9],[52,1,2,.7],[53,3,1,3],[52,5,1,.7,2],[54,7,1,3],[52,8,1,.6,2],[53,14,1,.8],[52,39,5,1.2],[54,41,4,.8],[56,44,1,.9],[57,39,1,.9,3],[56,42,1,1,3],[60,39,3,.7],[55,14,2,.5],
[56,19,1,1,2],[55,21,1,3.5,2],[60,19,1,1.1,3],[60,21,1,3,3],[62,20,1,.9,2],[58,10,1,.7,2],[60,11,1,1.2,4],[59,31,1,4],[57,15,1,.6],[60,7,1,.5,2],[68,1,1,.7],[68,7,2,.7],[68,11,1,3],[69,14,2,.5],[68,21,2,3],[68,39,3,.7],[69,43,1,.9],[68,18,3,.5],[72,8,1,.5],[75,6,2,.7],[76,7,1,.9],[74,30,1,.8,2],[75,31,1,3],[77,33,1,3],
[79,9,1,.8],[82,9,1,.9],[84,9,1,4],[81,7,2,.5],[88,0,2,1.1,2],[88,5,1,1.1,4],[88,7,1,2.5,5],[89,9,4,1,2],[91,10,2,3],[88,15,1,1.1,4],[89,19,3,.7],[90,21,1,4],[90,24,1,.5,2],[90,27,1,.6,3],[88,40,2,.9,4],[88,44,1,.9,4],[91,42,2,.6],[88,1,1,4],[92,20,1,.5],[95,7,2,.7],[96,5,1,.7],[97,16,1,.9],[96,21,2,.9],[96,21,1,3],[98,9,1,.5],
[101,7,1,.9,4],[105,7,1,1.1,2],[104,2,1,.7],[106,3,1,.5],[104,11,1,.5],[108,2,1,.6],[110,3,1,3],[100,29,1,.8,2],[103,30,1,.6,2],[100,39,1,.6,3],[105,39,1,.9,2],[104,42,2,.8],[107,43,1,1.1,2],[109,41,1,.5],[112,1,1,.9],[111,9,1,4],[112,9,1,.9,2],[112,16,1,1,2],[111,21,3,.5],[112,30,1,.4],[111,11,1,.4],[131,1,1,.5,3],[142,1,1,3.5,2],[140,30,1,.6],[142,30,1,.5,2],[142,39,1,.7],[142,44,1,.7]];
const cells7 = [[15,18,1,.6,2],[18,18,1,1.2,4],[17,10,1,.4],[20,2,1,.3],[18,31,1,1],[14,34,1,.5],[16,34,1,2.5,2],[18,34,1,3],[20,34,1,.6],[23,34,1,.4],[21,39,1,1.2],[52,35,1,.3],[56,35,2,.5],
[57,0,1,1],[57,10,2,.6],[58,13,1,3],[58,14,2,.5],[57,28,1,.6],[58,38,1,.6],[59,1,1,.5],[60,2,1,1],[59,10,2,1.2,2],[59,18,2,.7],[60,20,1,.9],[60,33,1,.8],[60,38,2,1],[61,3,1,1.3],[62,1,1,.8],[61,6,2,.6,2],[61,10,2,4,3],[62,13,1,3],[62,15,2,1],[61,20,2,1],[62,24,2,.9],[61,28,1,.8,2],[62,29,2,1.2],[62,32,1,1.3],[61,33,1,1.1],[61,36,2,1.2],[63,3,2,1.3],[63,6,2,.7],[64,8,3,1.5],[63,10,2,3],[64,15,2,2.5],[63,20,2,.7],[64,24,1,.8],[63,28,2,1.1],[63,33,1,.9],[65,2,1,.5],[65,13,1,.4],[65,19,1,.6],
[68,2,2,1],[68,5,1,1],[68,10,2,2.5],[68,15,2,.8],[68,13,1,3],[69,26,1,1],[75,15,1,.4]];
const cells8 = [[65,8,1,.6],[65,28,1,.6],[71,22,1,1],[118,0,1,.8],[118,2,1,1],[118,4,1,.7],[118,14,2,1],[118,16,1,.8],[118,27,1,.7],[137,1,1,.6],[137,3,1,.7],[137,6,2,.8],[137,9,2,.9],[138,11,3,.7],[137,16,2,.9],[137,19,2,.7],[138,21,2,.9],[138,23,3,.7],[137,26,1,.8]];
const cells9 = [[70,1,1,.5],[70,10,1,.5],[70,14,1,.5],[70,17,1,.5],[77,22,1,.5],[87,19,1,.8],[97,0,2,.7],[100,17,1,.4],[17,23,1,.2],[28,23,1,.2],[38,23,1,.2],[133,0,1,4],[132,1,1,1],[133,3,2,1],[134,4,1,3],[133,6,2,.7],[133,9,1,1],[133,11,2,1.1],[132,12,1,3],[133,13,2,1.2],[133,15,1,4],[133,17,1,1.1],[132,21,1,3],[135,3,2,2.5],[135,18,3,1],[135,22,2,1],[144,2,1,4],[145,3,1,1],[144,8,3,2],[144,14,2,4],[144,17,1,4]];
const cells10 = [[5,0,1,3],[5,1,2,.9],[6,3,4,.6],[5,7,1,.7],[6,8,1,3],[5,9,2,.8],[5,10,1,3],[5,12,2,1],[6,14,3,.6],[47,11,1,.2],[120,19,1,2],[120,20,2,.7],[124,17,2,.7],[124,19,1,3],[124,21,1,.6]];
const communityCells = [cells1,cells2,cells3,cells4,cells5,cells6,cells7,cells8,cells9,cells10];

// abundance colour legend
const abundanceStops = [0,.25,.5,1,2,3,5];
const abundanceColors = ["#2c2e50","#55533f","#8f8a3a","#f6e51f","#f0a024","#e4601f","#c8141c"];
const abundanceTicks = [0,1,5];

// ---------- layout ----------
const svg = d3.select("#c");
const defs = svg.append("defs");
const blur = (id,s)=>defs.append("filter").attr("id",id).attr("x","-2%").attr("y","-2%").attr("width","104%").attr("height","104%").attr("color-interpolation-filters","sRGB").append("feGaussianBlur").attr("stdDeviation",s);
blur("soft",.35); blur("softer",.3);
const px = d3.scaleLinear().domain([0,1200]).range([0,400]);
const py = d3.scaleLinear().domain([0,1080]).range([0,360]);
const rs = d3.scaleLinear().domain([0,30]).range([0,13.5]);
const panelShift = [0,356];
const color = Object.fromEntries(networkPhyla.map(d=>[d[0],d[2]]));
const isArchaea = k => "schenutx".includes(k);
const allCommunities = [community1Nodes,community2Nodes,community3Nodes,community4Nodes,community5Nodes,community6Nodes,community7Nodes,community8Nodes,community9Nodes,community10Nodes];
const nodes = background.map(n=>({n,c:-1})).concat(allCommunities.flatMap((list,c)=>list.map(n=>({n,c}))));

function marks(g,data,fill,fo,stroke,sw){
  g.selectAll(null).data(data.filter(d=>!isArchaea(d.n[3]))).join("circle")
   .attr("cx",d=>px(d.n[0])).attr("cy",d=>py(d.n[1])).attr("r",d=>rs(d.n[2]))
   .attr("fill",fill).attr("fill-opacity",fo).attr("stroke",stroke).attr("stroke-width",sw);
  g.selectAll(null).data(data.filter(d=>isArchaea(d.n[3]))).join("rect")
   .attr("x",d=>px(d.n[0])-rs(d.n[2])).attr("y",d=>py(d.n[1])-rs(d.n[2])).attr("width",d=>2*rs(d.n[2])).attr("height",d=>2*rs(d.n[2]))
   .attr("fill",fill).attr("fill-opacity",fo).attr("stroke",stroke).attr("stroke-width",sw);
}
panelShift.forEach((dx,pi)=>{
  const g = svg.append("g").attr("transform",`translate(${dx},0)`).attr("filter","url(#softer)");
  g.selectAll(null).data(edges).join("line").attr("x1",d=>px(d[0])).attr("y1",d=>py(d[1])).attr("x2",d=>px(d[2])).attr("y2",d=>py(d[3])).attr("stroke","#dedede").attr("stroke-width",.8);
  const bg = nodes.filter(d=>d.c<0), fg = nodes.filter(d=>d.c>=0);
  if(pi===0){
    marks(g.append("g"),bg,d=>color[d.n[3]],.35,"#777",.5);
    marks(g.append("g"),fg,d=>color[d.n[3]],.95,"#888",.25);
  } else {
    marks(g.append("g"),bg,"#fff",1,"#8f8f8f",.55);
    marks(g.append("g"),fg,d=>communityColors[d.c],.92,d=>communityColors[d.c],.2);
  }
});
[["A",1,18],["B",401,18],["C",3,483]].forEach(d=>svg.append("text").attr("x",d[1]).attr("y",d[2]).attr("font-size",20).attr("fill","#222").text(d[0]));

// network legends
const legendA = [
 [11.5,17.5,[["A",374],["T",386.7],["O",399.3],["R",413.3],["B",425.3],["C",437.7]]],
 [93.5,101,[["Y",373],["F",385.7],["G",399],["P",411.7],["E",424.3],["U",437]]],
 [194,200,[["X",373.3],["s",386],["c",399.3],["e",412.7],["h",425],["n",437.7]]],
 [281,288,[["t",375],["u",391.7],["x",407.7]]]];
const nameOf = Object.fromEntries(networkPhyla.map(d=>[d[0],d[1]]));
legendA.forEach(([mx,tx,items])=>items.forEach(([k,y])=>{
  if(isArchaea(k)) svg.append("rect").attr("x",mx-4.5).attr("y",y-5).attr("width",9).attr("height",10).attr("fill",color[k]).attr("stroke","#777").attr("stroke-width",.4);
  else svg.append("circle").attr("cx",mx).attr("cy",y).attr("r",4.6).attr("fill",color[k]).attr("stroke","#555").attr("stroke-width",.4);
  const lines = nameOf[k].split("\n"), other = nameOf[k].startsWith("Other")||lines.length>1;
  lines.forEach((t,i)=>svg.append("text").attr("x",tx).attr("y",y+3.4+(lines.length>1?(i*8.8+(k==="U"?-1.4:-4.6)):0)).attr("font-size",9.2).attr("font-style",other?"normal":"italic").attr("fill","#333").text(t));
}));
const legendBx=[[440,447.5],[558,565],[672,680]], legendBy=[373,386.7,399.3,413];
communityNodeCounts.forEach((n,i)=>{
  const col=i<4?0:i<8?1:2, row=i<8?i%4:i-8;
  svg.append("rect").attr("x",legendBx[col][0]-4).attr("y",legendBy[row]-5).attr("width",8.5).attr("height",10).attr("fill",communityColors[i]).attr("stroke","#777").attr("stroke-width",.4);
  svg.append("text").attr("x",legendBx[col][1]).attr("y",legendBy[row]+3.4).attr("font-size",9.15).attr("fill","#333").text(`Community ${i+1}: ${n} nodes`);
});

// heat maps
const panelX = [30,267.3,457.3,629.7,34,180.7,325.3,456.7,559.3,649.3];
const titleX = [31,267.5,457,630,34.7,181,325,457,559,649];
const titleC = ["#33318f","#4a7c3a","#4a7c3a","#4a7c3a","#33318f","#4a7c3a","#4a7c3a","#33318f","#33318f","#33318f"];
const rowTop = [517,758.7], rowH = 194.67, bandW = 7.5, colW = 2.59, totalRows = 146;
const abundance = d3.scaleLinear().domain(abundanceStops).range(abundanceColors).clamp(true);
const expColor = Object.fromEntries(expeditions);
communityTitles.forEach((title,i)=>{
  const top = i<4?rowTop[0]:rowTop[1], x0 = panelX[i]+bandW;
  const nCols = d3.sum(communityPhyla[i],d=>d[1]);
  const xs = d3.scaleLinear().domain([0,nCols]).range([x0,x0+nCols*colW]);
  const ys = d3.scaleLinear().domain([0,totalRows]).range([top,top+rowH]);
  const g = svg.append("g");
  g.append("text").attr("x",titleX[i]).attr("y",top-14).attr("font-size",13.4).attr("font-weight","bold").attr("fill",titleC[i]).text(title);
  let acc=0;
  communityPhyla[i].forEach(([p,n])=>{
    g.append("rect").attr("x",xs(acc)).attr("y",top-7.6).attr("width",xs(acc+n)-xs(acc)).attr("height",7.6).attr("fill",phylumColors[p]);
    acc+=n;
  });
  let r=0;
  sampleBlocks.forEach(([e,n])=>{
    g.append("rect").attr("x",panelX[i]).attr("y",ys(r)).attr("width",bandW).attr("height",ys(r+n)-ys(r)+.2).attr("fill",expColor[e]);
    r+=n;
  });
  g.append("rect").attr("x",x0).attr("y",top).attr("width",nCols*colW).attr("height",rowH).attr("fill",abundance(0));
  const clip = defs.append("clipPath").attr("id","clip"+i).append("rect").attr("x",x0).attr("y",top).attr("width",nCols*colW).attr("height",rowH);
  g.append("g").attr("clip-path",`url(#clip${i})`).append("g").attr("filter","url(#soft)").selectAll("rect").data(communityCells[i]).join("rect")
   .attr("x",d=>xs(d[1])).attr("y",d=>ys(d[0])).attr("width",d=>xs(d[1]+d[2])-xs(d[1])).attr("height",d=>ys(d[0]+(d[4]||1))-ys(d[0]))
   .attr("fill",d=>abundance(d[3]));
  g.append("line").attr("x1",panelX[i]).attr("x2",x0+nCols*colW).attr("y1",top+rowH+.3).attr("y2",top+rowH+.3).attr("stroke","#8c8ca8").attr("stroke-width",.7);
});
[673.3,914.3].forEach(y=>svg.append("line").attr("x1",0).attr("x2",785).attr("y1",y).attr("y2",y).attr("stroke","#bdbdcb").attr("stroke-width",.6).attr("stroke-dasharray","4 3"));
[["Anoxic",17,639],["Oxic",17,694],["Anoxic",17,880],["Oxic",17,935]].forEach(d=>svg.append("text").attr("transform",`translate(${d[1]+4.5},${d[2]}) rotate(-90)`).attr("text-anchor","middle").attr("font-size",13.5).attr("fill","#222").text(d[0]));

// abundance legend
svg.append("text").attr("x",17.5).attr("y",982).attr("font-size",11).attr("fill","#333").text("Abundance (%)");
const legendPos = d3.scaleLinear().domain([0,1,5]).range([108,155,203]);
const grad = defs.append("linearGradient").attr("id","abund");
abundanceStops.forEach((v,i)=>grad.append("stop").attr("offset",(legendPos(v)-108)/95).attr("stop-color",abundanceColors[i]));
svg.append("rect").attr("x",108).attr("y",974.3).attr("width",95).attr("height",11).attr("fill","url(#abund)");
abundanceTicks.forEach(t=>svg.append("text").attr("x",legendPos(t)).attr("y",972).attr("text-anchor","middle").attr("font-size",10.5).attr("fill","#333").text(t));

// expedition legend
svg.append("text").attr("x",18).attr("y",1005).attr("font-size",11).attr("fill","#222").text("Expedition");
const expX=[78,125,171,216,261.6,307,352,398,443,488,534,579.5,632.6,676];
expeditions.forEach(([e,c],i)=>{
  svg.append("rect").attr("x",expX[i]).attr("y",996).attr("width",8).attr("height",9).attr("fill",c);
  svg.append("text").attr("x",expX[i]+9).attr("y",1004.6).attr("font-size",10.6).attr("fill","#333").text(e);
});
// phylum legend
svg.append("text").attr("x",18).attr("y",1031).attr("font-size",11).attr("fill","#222").text("Phylum");
const phyX=[[77.7,164,253,341,445.5,527,601],[77.7,164.7,272,377.7,484,571],[77.7,190.6,289,381,483.5]], phyY=[1027,1041.7,1058];
phylumLegendRows.forEach((row,ri)=>row.forEach((p,i)=>{
  svg.append("rect").attr("x",phyX[ri][i]).attr("y",phyY[ri]-4.5).attr("width",8).attr("height",9).attr("fill",phylumColors[p]).attr("stroke",p==="Others"?"#666":"none").attr("stroke-width",.5);
  svg.append("text").attr("x",phyX[ri][i]+9.5).attr("y",phyY[ri]+3.6).attr("font-size",10.5).attr("font-style",p==="Others"?"normal":"italic").attr("fill","#333").text(p);
}));
</script></body></html>
